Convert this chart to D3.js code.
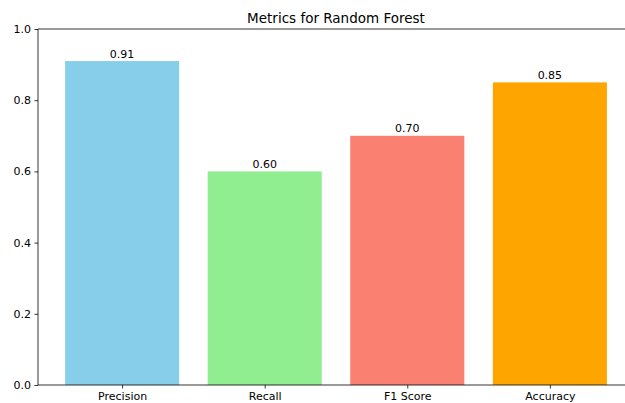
<!DOCTYPE html>
<html>
<head>
<meta charset="utf-8">
<script src="https://cdn.jsdelivr.net/npm/d3@7"></script>
<style>
  body { margin: 0; background: #fff; }
  svg { display: block; font-family: "DejaVu Sans", sans-serif; }
</style>
</head>
<body>
<div id="chart"></div>
<script>
const categories = ['Precision', 'Recall', 'F1 Score', 'Accuracy'];
const values = [0.91, 0.60, 0.70, 0.85];
const labels = ['0.91', '0.60', '0.70', '0.85'];
const colors = ['#87CEEB', '#90EE90', '#FA8072', '#FFA500'];
const yTicks = [0.0, 0.2, 0.4, 0.6, 0.8, 1.0];

const W = 625, H = 403;
const margin = { top: 29, right: -9, bottom: 18, left: 38 };
const width = W - margin.left - margin.right;
const height = H - margin.top - margin.bottom;

const svg = d3.select('#chart').append('svg')
  .attr('width', W).attr('height', H);

const g = svg.append('g')
  .attr('transform', `translate(${margin.left},${margin.top})`);

// matplotlib-like x range: bars at 0..n-1, width 0.8, 5% margins
const x = d3.scaleLinear()
  .domain([-0.59, categories.length - 1 + 0.59])
  .range([0, width]);

const y = d3.scaleLinear().domain([0, 1]).range([height, 0]);

// bars
g.selectAll('rect.bar')
  .data(values)
  .join('rect')
  .attr('class', 'bar')
  .attr('x', (d, i) => x(i - 0.4))
  .attr('width', (d, i) => x(i + 0.4) - x(i - 0.4))
  .attr('y', d => y(d))
  .attr('height', d => y(0) - y(d))
  .attr('fill', (d, i) => colors[i]);

// value labels
g.selectAll('text.val')
  .data(values)
  .join('text')
  .attr('class', 'val')
  .attr('x', (d, i) => x(i))
  .attr('y', d => y(d) - 3.5)
  .attr('text-anchor', 'middle')
  .attr('font-size', 11)
  .attr('fill', '#000')
  .text((d, i) => labels[i]);

// axes
const xAxis = g.append('g')
  .attr('transform', `translate(0,${height})`)
  .call(d3.axisBottom(x)
    .tickValues(d3.range(categories.length))
    .tickFormat(i => categories[i])
    .tickSize(3.5).tickPadding(3.5));

const yAxis = g.append('g')
  .call(d3.axisLeft(y)
    .tickValues(yTicks)
    .tickFormat(d3.format('.1f'))
    .tickSize(3.5).tickPadding(3.5));

[xAxis, yAxis].forEach(a => {
  a.select('.domain').remove();
  a.selectAll('text').attr('font-size', 11).attr('fill', '#000')
    .attr('font-family', '"DejaVu Sans", sans-serif');
  a.selectAll('line').attr('stroke', '#000').attr('stroke-width', 0.8);
});

// spines
const spine = (x1, y1, x2, y2) => g.append('line')
  .attr('x1', x1).attr('y1', y1).attr('x2', x2).attr('y2', y2)
  .attr('stroke', '#000').attr('stroke-width', 0.8);
spine(0, 0, 0, height);
spine(0, height, width, height);
spine(0, 0, width, 0);
spine(width, 0, width, height);

// title
svg.append('text')
  .attr('x', margin.left + width / 2)
  .attr('y', margin.top - 6)
  .attr('text-anchor', 'middle')
  .attr('font-size', 13.5)
  .attr('fill', '#000')
  .text('Metrics for Random Forest');
</script>
</body>
</html>
